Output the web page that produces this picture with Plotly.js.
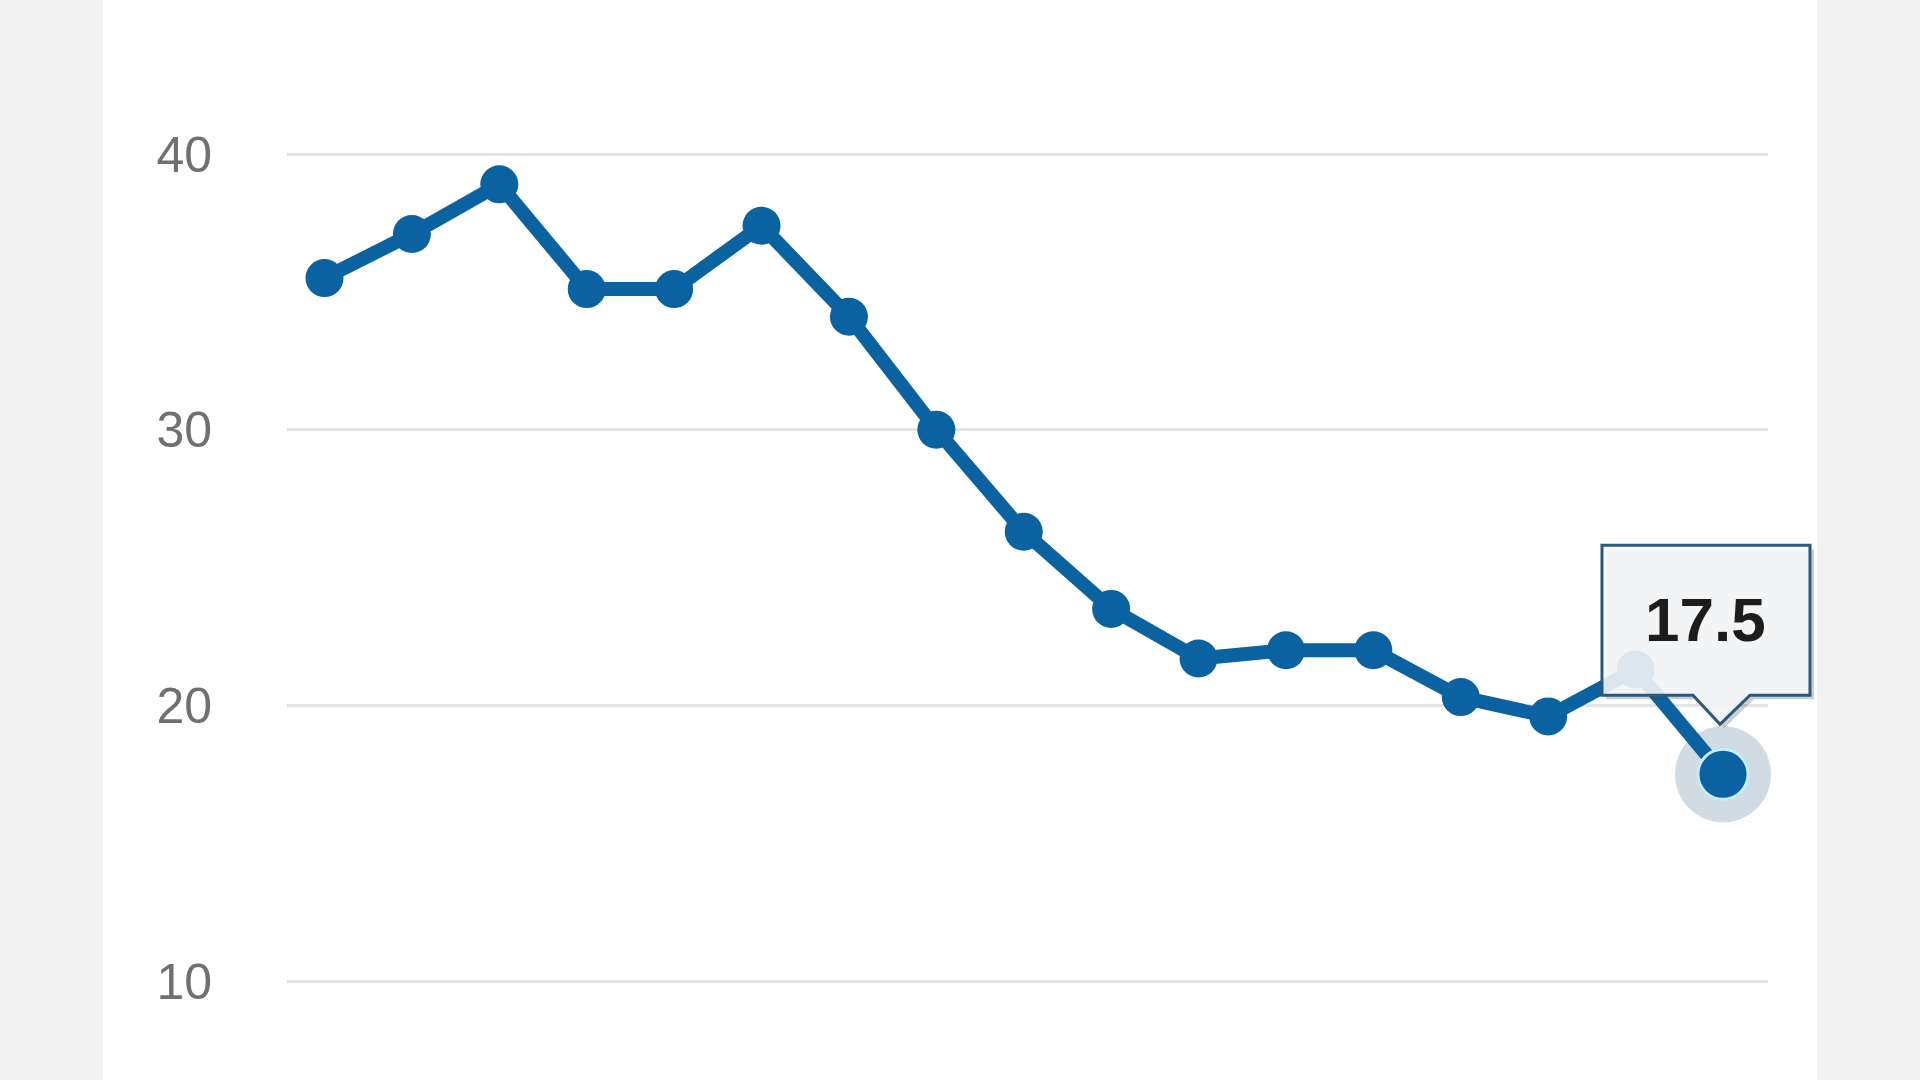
<!DOCTYPE html>
<html>
<head>
<meta charset="utf-8">
<script src="https://cdn.plot.ly/plotly-3.0.1.min.js"></script>
<style>
  html, body { margin: 0; padding: 0; background: #f2f2f2; width: 1920px; height: 1080px; overflow: hidden; }
  #panel { position: absolute; left: 103px; top: 0; width: 1714px; height: 1080px; background: #ffffff; }
  #chart { position: absolute; left: 0; top: 0; width: 1920px; height: 1080px; }
</style>
</head>
<body>
<div id="panel"></div>
<div id="chart"></div>
<script>
// Data
const periods = [1, 2, 3, 4, 5, 6, 7, 8, 9, 10, 11, 12, 13, 14, 15, 16, 17];
const values  = [35.5, 37.1, 38.9, 35.1, 35.1, 37.4, 34.1, 30.0, 26.3, 23.5, 21.7, 22.0, 22.0, 20.3, 19.6, 21.3, 17.5];
const yTicks  = [10, 20, 30, 40];
const calloutLabel = '17.5';

const lineColor = '#0a62a0';
const lastX = periods[periods.length - 1];
const lastY = values[values.length - 1];

const xRange = [0.571, 17.515];
const yRange = [6.41, 41.96];
// anchor of the callout in paper fractions, derived from the last data point through the axis ranges
const anchorX = (lastX - xRange[0]) / (xRange[1] - xRange[0]);
const anchorY = (lastY - yRange[0]) / (yRange[1] - yRange[0]);

const traces = [
  { // halo under the highlighted point
    x: [lastX], y: [lastY], type: 'scatter', mode: 'markers', cliponaxis: false,
    marker: { size: 96, color: 'rgba(150,175,195,0.45)' },
    hoverinfo: 'skip', showlegend: false
  },
  {
    x: periods, y: values, type: 'scatter', mode: 'lines', cliponaxis: false,
    line: { color: lineColor, width: 14 },
    hoverinfo: 'skip', showlegend: false
  },
  {
    x: periods, y: values, type: 'scatter', mode: 'markers', cliponaxis: false,
    marker: { size: 38, color: lineColor },
    hoverinfo: 'skip', showlegend: false
  },
  { // highlighted last point
    x: [lastX], y: [lastY], type: 'scatter', mode: 'markers', cliponaxis: false,
    marker: { size: 50, color: lineColor, line: { color: '#c8ecfb', width: 3 } },
    hoverinfo: 'skip', showlegend: false
  }
];

const calloutPath = 'M -121,229 L 87,229 L 87,79 L 27,79 L -3,50 L -30,79 L -121,79 Z';
const shadowPath  = 'M -117,225 L 91,225 L 91,75 L 31,75 L 1,46 L -26,75 L -117,75 Z';

const layout = {
  width: 1920, height: 1080,
  paper_bgcolor: 'rgba(0,0,0,0)',
  plot_bgcolor: 'rgba(0,0,0,0)',
  margin: { l: 287, r: 152, t: 100, b: 0, pad: 0 },
  showlegend: false,
  xaxis: {
    range: xRange, visible: false, showgrid: false, zeroline: false, fixedrange: true
  },
  yaxis: {
    range: yRange,
    tickvals: yTicks, ticktext: yTicks.map(String),
    showgrid: true, gridcolor: '#e4e4e4', gridwidth: 3,
    zeroline: false, showline: false, ticks: '',
    ticklabelstandoff: 74,
    tickfont: { family: 'Liberation Sans, Arial, sans-serif', size: 50, color: '#707070' },
    fixedrange: true
  },
  shapes: [
    {
      type: 'path', xref: 'paper', yref: 'paper', xsizemode: 'pixel', ysizemode: 'pixel',
      xanchor: anchorX, yanchor: anchorY, path: shadowPath,
      fillcolor: 'rgba(60,60,60,0.25)', line: { width: 0 }, layer: 'above'
    },
    {
      type: 'path', xref: 'paper', yref: 'paper', xsizemode: 'pixel', ysizemode: 'pixel',
      xanchor: anchorX, yanchor: anchorY, path: calloutPath,
      fillcolor: 'rgba(248,249,250,0.88)', line: { color: '#275a7c', width: 3 }, layer: 'above'
    }
  ],
  annotations: [
    {
      x: lastX, y: lastY, xref: 'x', yref: 'y', showarrow: false,
      xshift: -17, yshift: 155,
      text: '<b>' + calloutLabel + '</b>',
      font: { family: 'Liberation Sans, Arial, sans-serif', size: 62, color: '#1c1c1c' }
    }
  ]
};

Plotly.newPlot('chart', traces, layout, { displayModeBar: false, staticPlot: true });
</script>
</body>
</html>
